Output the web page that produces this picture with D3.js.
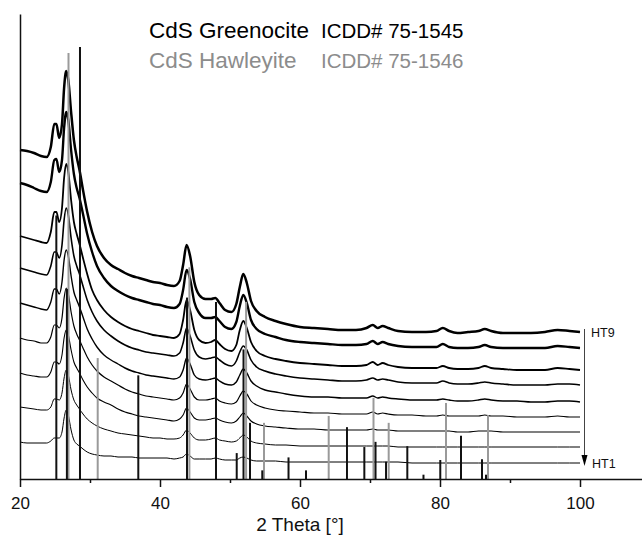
<!DOCTYPE html>
<html><head><meta charset="utf-8">
<script src="https://cdn.jsdelivr.net/npm/d3@7"></script>
<style>body{margin:0;background:#fff}svg{display:block}</style>
</head><body>
<script>
// 2θ grid shared by all measured patterns
const twoTheta = [20,21,22,23,23.8,24.4,24.9,25.2,25.6,26.0,26.3,26.6,26.9,27.3,27.7,28.1,28.5,29.0,29.6,30.3,31,32,33,34,35,36,37,38,39,40,41,42,42.8,43.3,43.8,44.3,44.9,45.6,46.5,47.3,47.9,48.5,49.3,50.2,50.9,51.4,51.9,52.4,53.0,53.8,55,56.5,58,60,62,64,66,68,69.5,70.4,71.1,71.8,72.6,74,76,78,79.5,80.4,81.3,82.5,84,85.5,86.4,87.3,89,91,93,95,96.8,98.5,100];

// intensities (arb. units, stacked)
const HT1 = [37,36,36,36,36,38,41,41,41,47,61,69,64,49,39,35,33,30,27,25,24,23,23,22,22,22,21,21,21,21,21,20,21,22,25,23,20,20,20,20,21,20,19,19,19,21,22,21,19,18,18,18,17,17,17,17,17,17,17,17,17,17,17,17,16,16,16,16,16,16,16,16,16,16,16,16,16,16,16,16,16];
const HT2 = [72,71,70,69,69,72,80,80,79,86,101,109,104,89,79,74,70,65,60,56,53,50,48,46,45,44,43,42,41,41,40,40,41,44,49,46,41,39,39,40,41,39,38,37,38,41,44,42,38,36,35,34,34,33,33,33,33,33,33,33,33,33,33,32,32,32,32,32,32,32,32,32,32,32,32,32,32,32,32,32,32];
const HT3 = [106,104,103,102,102,107,117,117,115,124,141,149,144,129,117,111,106,99,92,86,81,77,74,70,67,65,63,62,61,60,59,58,60,64,71,67,61,59,59,60,61,59,57,56,58,62,66,63,58,55,53,52,51,50,50,49,49,49,49,50,49,49,49,48,48,48,48,48,48,47,47,48,48,48,47,47,47,47,47,47,47];
const HT4 = [141,139,138,136,136,142,154,154,151,161,181,191,185,167,153,145,139,131,122,114,108,102,98,94,90,87,85,83,82,81,80,79,81,86,95,90,82,79,79,80,81,78,76,75,77,83,88,85,78,74,71,69,68,67,66,66,65,65,65,67,65,66,65,64,64,63,63,64,63,63,63,63,64,63,63,62,62,62,63,62,62];
const HT5 = [176,174,172,170,169,177,190,190,185,197,219,229,223,203,187,179,172,162,150,140,132,124,119,115,111,108,106,104,103,102,101,100,102,109,121,115,104,100,99,100,101,98,95,94,97,104,110,106,98,93,89,87,85,83,82,82,81,81,81,83,81,82,81,80,79,79,79,80,79,78,78,79,80,79,78,78,77,77,78,78,77];
const HT6 = [211,209,207,205,204,213,227,227,221,234,259,271,264,241,223,213,205,193,179,167,158,149,143,138,134,131,129,127,126,125,124,123,126,136,151,143,129,122,120,121,122,119,115,113,118,127,133,129,119,112,108,105,103,101,100,99,98,98,99,101,99,100,99,97,96,96,96,98,96,95,95,96,97,96,95,94,94,94,95,95,94];
const HT7 = [243,241,239,237,236,247,267,267,257,271,301,315,307,279,257,245,235,221,205,189,179,169,162,157,153,150,148,146,144,143,142,141,145,159,179,169,149,139,136,137,139,135,130,128,134,149,158,151,137,128,123,120,118,116,115,114,113,113,114,117,114,116,114,112,111,111,111,113,111,110,110,111,113,111,110,109,109,109,111,110,109];
const HT8 = [296,294,291,288,287,297,319,320,307,319,351,367,359,329,305,291,281,265,245,227,213,201,193,188,184,181,179,177,175,174,172,171,175,189,209,200,177,166,161,161,162,158,152,150,157,173,184,176,159,150,145,142,139,137,136,135,134,134,135,138,135,137,135,133,132,132,132,135,132,131,131,132,134,132,131,131,131,131,133,132,131];
const HT9 = [329,328,326,323,322,332,355,355,341,355,391,408,399,367,339,322,309,289,267,247,233,221,214,210,206,203,201,199,197,196,194,193,198,214,234,223,197,184,180,180,181,176,169,167,175,192,205,196,178,168,162,158,155,152,151,150,149,149,151,154,151,153,151,148,147,147,148,151,148,146,147,148,150,148,146,146,146,147,149,148,147];
const sampleNames = ["HT1","HT2","HT3","HT4","HT5","HT6","HT7","HT8","HT9"];
const samples = [HT1,HT2,HT3,HT4,HT5,HT6,HT7,HT8,HT9];

// Reference stick patterns (relative intensity %)
const greenPos = [25.19,26.7,28.57,36.9,43.86,48.0,50.96,51.93,52.86,54.61,58.36,60.86,66.71,69.19,70.79,72.29,75.33,77.64,80.04,83.0,86.0,86.57];
const greenInt = [61,44,100,24,42,41,6,30,13,2,5,2,12,7.4,8.6,4,7.6,1,4.4,10,4.6,1];
const hawPos = [26.93,31.1,44.2,52.3,54.86,64.1,70.5,72.67,80.86,86.86];
const hawInt = [98.6,28,49,41,13,14.6,18.8,13,17.6,14.8];

const xTicks = [20,40,60,80,100];
const xMinor = [30,50,70,90];
const title1a = "CdS Greenocite", title1b = "ICDD# 75-1545";
const title2a = "CdS Hawleyite", title2b = "ICDD# 75-1546";
const xLabel = "2 Theta [°]";

const W = 642, H = 540;
const FONT = "'Liberation Sans', Arial, sans-serif";
const svg = d3.select("body").append("svg").attr("width", W).attr("height", H)
  .style("font-family", FONT);

const x = d3.scaleLinear().domain([20, 110]).range([20, 650]);
const y = d3.scaleLinear().domain([0, 465]).range([479, 14]);
const ys = d3.scaleLinear().domain([0, 100]).range([479, 47]);

// traces
const widths = [1.0,1.0,1.1,1.2,1.4,1.6,1.8,2.4,2.5];
const line = d3.line().x((d, i) => x(twoTheta[i])).y(d => y(d)).curve(d3.curveMonotoneX);
svg.append("g").selectAll("path").data(samples).join("path")
  .attr("d", d => line(d)).attr("fill", "none")
  .attr("stroke", "#000").attr("stroke-width", (d, i) => widths[i])
  .attr("stroke-linejoin", "round");

// sticks
svg.append("g").selectAll("line").data(hawPos).join("line")
  .attr("x1", d => x(d)).attr("x2", d => x(d))
  .attr("y1", ys(0)).attr("y2", (d, i) => ys(hawInt[i]))
  .attr("stroke", "#9a9a9a").attr("stroke-width", 2);
svg.append("g").selectAll("line").data(greenPos).join("line")
  .attr("x1", d => x(d)).attr("x2", d => x(d))
  .attr("y1", ys(0)).attr("y2", (d, i) => ys(greenInt[i]))
  .attr("stroke", "#111").attr("stroke-width", 2);

// axes
const ax = svg.append("g").attr("transform", `translate(0,${y(0)})`)
  .call(d3.axisBottom(x).tickValues(xTicks).tickSize(8).tickSizeOuter(0).tickPadding(10).tickFormat(d3.format("d")));
ax.select(".domain").attr("stroke", "#111").attr("stroke-width", 1.5);
ax.selectAll(".tick line").attr("stroke", "#111").attr("stroke-width", 1.5);
ax.selectAll(".tick text").attr("font-size", 17).attr("fill", "#111").style("font-family", FONT);
const axm = svg.append("g").attr("transform", `translate(0,${y(0)})`)
  .call(d3.axisBottom(x).tickValues(xMinor).tickSize(4).tickSizeOuter(0).tickFormat(""));
axm.select(".domain").remove();
axm.selectAll(".tick line").attr("stroke", "#111").attr("stroke-width", 1.5);
const ay = svg.append("g").attr("transform", `translate(${x(20)},0)`)
  .call(d3.axisLeft(y).tickValues([]).tickSizeOuter(0));
ay.select(".domain").attr("stroke", "#111").attr("stroke-width", 1.5);

svg.append("text").attr("x", 300).attr("y", 531).attr("text-anchor", "middle")
  .attr("font-size", 19).attr("fill", "#111").text(xLabel);

// legend titles
svg.append("text").attr("x", 149).attr("y", 38).attr("font-size", 22.5).attr("fill", "#000").text(title1a);
svg.append("text").attr("x", 321).attr("y", 38).attr("font-size", 20.5).attr("fill", "#000").text(title1b);
svg.append("text").attr("x", 149).attr("y", 68).attr("font-size", 22.5).attr("fill", "#8c8c8c").text(title2a);
svg.append("text").attr("x", 321).attr("y", 68).attr("font-size", 20.5).attr("fill", "#8c8c8c").text(title2b);

// arrow HT9 -> HT1
const xe = x(100);
const yTop = y(HT9[HT9.length-1]), yBot = y(HT1[HT1.length-1]);
svg.append("line").attr("x1", xe + 4.5).attr("x2", xe + 4.5).attr("y1", yTop - 3).attr("y2", yBot - 6)
  .attr("stroke", "#444").attr("stroke-width", 1);
svg.append("path").attr("d", `M${xe+1.5},${yBot-8} L${xe+7.5},${yBot-8} L${xe+4.5},${yBot+3} Z`).attr("fill", "#000");
svg.append("text").attr("x", xe + 11).attr("y", yTop + 5).attr("font-size", 12.5).attr("fill", "#111").text("HT9");
svg.append("text").attr("x", xe + 12).attr("y", yBot + 5).attr("font-size", 12.5).attr("fill", "#111").text("HT1");
</script>
</body></html>
